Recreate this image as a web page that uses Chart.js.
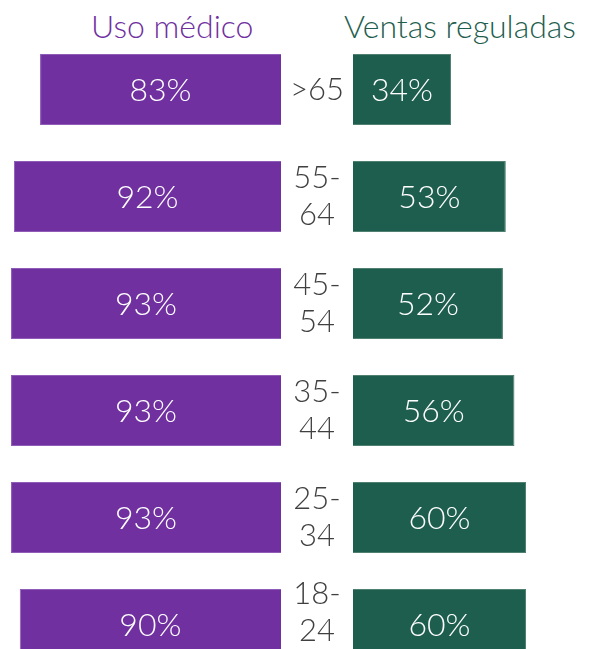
<!DOCTYPE html>
<html>
<head>
<meta charset="utf-8">
<script src="https://cdn.jsdelivr.net/npm/chart.js@4"></script>
<style>
  html, body { margin: 0; padding: 0; background: #fff; overflow: hidden; }
  #wrap { position: relative; width: 590px; height: 649px; }
  .titulo { position: absolute; top: 6px; font-family: Lato, sans-serif; font-weight: 300; font-size: 32px; white-space: nowrap; }
  #box-izq { position: absolute; left: 0; top: 0; width: 281px; height: 678px; }
  #box-der { position: absolute; left: 281px; top: 0; width: 309px; height: 678px; }
</style>
</head>
<body>
<div id="wrap">
  <div class="titulo" style="left:91px;color:#7030A0">Uso médico</div>
  <div class="titulo" style="left:344px;color:#1E5E4E">Ventas reguladas</div>
  <div id="box-izq"><canvas id="grafica-izq"></canvas></div>
  <div id="box-der"><canvas id="grafica-der"></canvas></div>
</div>
<script>
// Datos
var gruposEdad = ['>65', ['55-', '64'], ['45-', '54'], ['35-', '44'], ['25-', '34'], ['18-', '24']];
var usoMedico = [83, 92, 93, 93, 93, 90];
var ventasReguladas = [34, 53, 52, 56, 60, 60];

var fuente = 'Lato, sans-serif';

// etiqueta blanca dentro de cada barra
var etiquetasBarras = {
    id: 'etiquetasBarras',
    afterDatasetsDraw: function (chart) {
        var ctx = chart.ctx;
        var meta = chart.getDatasetMeta(0);
        var datos = chart.data.datasets[0].data;
        ctx.save();
        ctx.fillStyle = '#ffffff';
        ctx.font = '300 32px ' + fuente;
        ctx.textAlign = 'center';
        ctx.textBaseline = 'middle';
        meta.data.forEach(function (bar, i) {
            var cx = (bar.x + bar.base) / 2;
            ctx.fillText(datos[i] + '%', cx, bar.y + 1);
        });
        ctx.restore();
    }
};

// sube un poco la ultima etiqueta para que no se corte abajo
var subirUltima = {
    id: 'subirUltima',
    beforeDraw: function (chart) {
        var items = chart.scales.y.getLabelItems();
        var ult = items[items.length - 1];
        if (ult && !ult._movido) {
            ult.options.translation[1] -= 12;
            ult._movido = true;
        }
    }
};

function inicializarIzquierda() {
    var ctx = document.getElementById('grafica-izq').getContext('2d');
    return new Chart(ctx, {
        type: 'bar',
        data: {
            labels: gruposEdad,
            datasets: [{
                label: 'Uso médico',
                data: usoMedico,
                backgroundColor: '#7030A0',
                borderColor: '#8f5cb8',
                borderWidth: 1,
                categoryPercentage: 0.664,
                barPercentage: 1
            }]
        },
        options: {
            indexAxis: 'y',
            responsive: true,
            maintainAspectRatio: false,
            animation: false,
            layout: { padding: { top: 36, bottom: 0, left: 0, right: 0 } },
            scales: {
                x: { reverse: true, min: 0, max: 96.8, display: false },
                y: { display: false }
            },
            plugins: { legend: { display: false }, tooltip: { enabled: false } }
        },
        plugins: [etiquetasBarras]
    });
}

function inicializarDerecha() {
    var ctx = document.getElementById('grafica-der').getContext('2d');
    return new Chart(ctx, {
        type: 'bar',
        data: {
            labels: gruposEdad,
            datasets: [{
                label: 'Ventas reguladas',
                data: ventasReguladas,
                backgroundColor: '#1E5E4E',
                borderColor: '#4f8070',
                borderWidth: 1,
                categoryPercentage: 0.664,
                barPercentage: 1
            }]
        },
        options: {
            indexAxis: 'y',
            responsive: true,
            maintainAspectRatio: false,
            animation: false,
            layout: { padding: { top: 36, bottom: 0, left: 0, right: 0 } },
            scales: {
                x: { min: 0, max: 82.2, display: false },
                y: {
                    border: { display: false },
                    grid: { display: false, drawTicks: false },
                    afterFit: function (scale) {
                        scale.width = 72;
                        scale.paddingTop = 0;
                        scale.paddingBottom = 0;
                    },
                    ticks: {
                        crossAlign: 'center',
                        padding: 9,
                        color: '#404040',
                        font: { family: fuente, weight: '300', size: 31, lineHeight: 1.18 }
                    }
                }
            },
            plugins: { legend: { display: false }, tooltip: { enabled: false } }
        },
        plugins: [etiquetasBarras, subirUltima]
    });
}

var graficaIzq = inicializarIzquierda();
var graficaDer = inicializarDerecha();
</script>
</body>
</html>
